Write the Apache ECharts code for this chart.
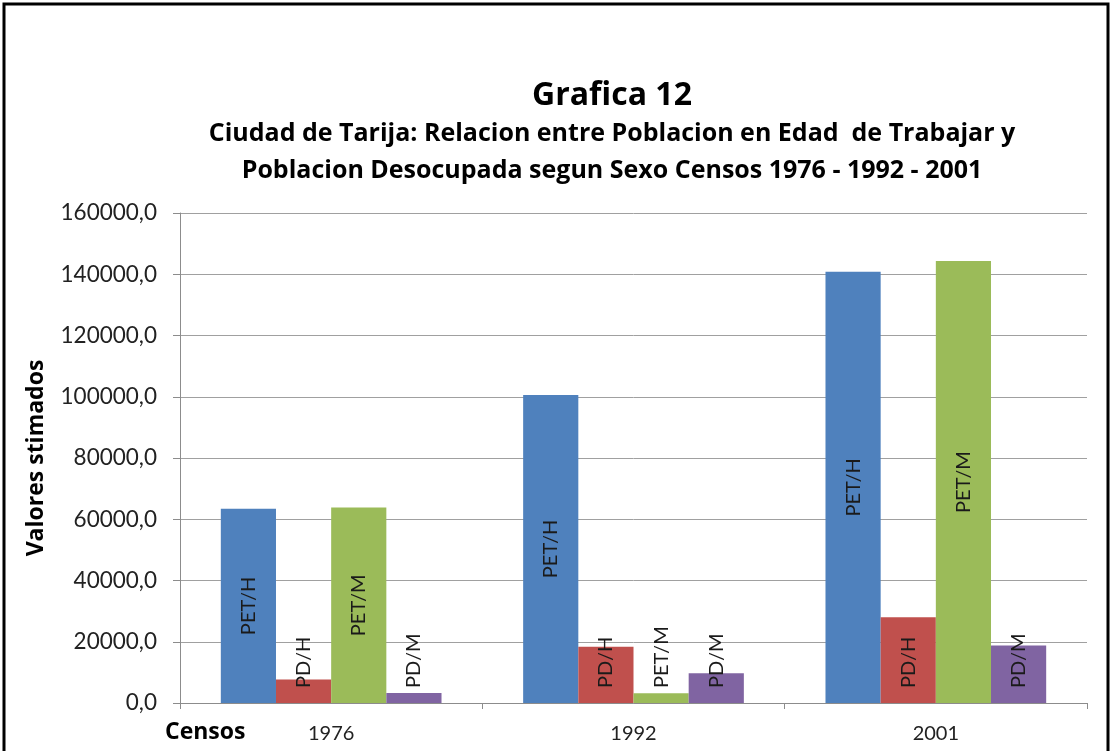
<!DOCTYPE html>
<html>
<head>
<meta charset="utf-8">
<script src="https://cdn.jsdelivr.net/npm/echarts@6/dist/echarts.min.js"></script>
<style>
  html, body { margin: 0; padding: 0; background: #fff; }
  #main { width: 1111px; height: 751px; }
</style>
</head>
<body>
<div id="main"></div>
<script>
// datos
var censos = ['1976', '1992', '2001'];
var seriesNames = ['PET/H', 'PD/H', 'PET/M', 'PD/M'];
var petH = [63400, 100600, 140800];
var pdH = [7700, 18400, 28000];
var petM = [63800, 3200, 144300];
var pdM = [3300, 9700, 18800];
var colors = ['#4F81BD', '#C0504D', '#9BBB59', '#8064A2'];

var FONT = 'Lato, "Open Sans", sans-serif';
var BOLD = '"Open Sans", Lato, sans-serif';

function buildData(values) {
  return values.map(function (v) {
    // etiquetas: centradas en barras altas, abajo en barras bajas
    if (v > 30000) {
      return { value: v, label: { position: 'inside', align: 'center', verticalAlign: 'middle' } };
    }
    return { value: v, label: { position: 'insideBottom', align: 'left', verticalAlign: 'middle', distance: 15 } };
  });
}

var allValues = [petH, pdH, petM, pdM];
var series = seriesNames.map(function (name, i) {
  return {
    name: name,
    type: 'bar',
    barGap: '0%',
    barCategoryGap: '27%',
    itemStyle: { color: colors[i] },
    label: {
      show: true,
      rotate: 90,
      formatter: '{a}',
      color: '#1a1a1a',
      fontSize: 20,
      fontFamily: FONT
    },
    data: buildData(allValues[i])
  };
});

var chart = echarts.init(document.getElementById('main'));
chart.setOption({
  backgroundColor: '#fff',
  animation: false,
  title: [{
    text: 'Grafica 12',
    left: 607,
    textAlign: 'center',
    top: 75,
    textStyle: { fontSize: 32, fontWeight: 'bold', fontFamily: BOLD, color: '#000' }
  }, {
    text: 'Ciudad de Tarija: Relacion entre Poblacion en Edad  de Trabajar y\nPoblacion Desocupada segun Sexo Censos 1976 - 1992 - 2001',
    left: 607,
    textAlign: 'center',
    top: 110,
    textStyle: { fontSize: 25, fontWeight: 'bold', fontFamily: BOLD, color: '#000', lineHeight: 37 }
  }],
  grid: { left: 180, right: 24, top: 213, bottom: 48 },
  xAxis: {
    type: 'category',
    data: censos,
    axisLine: { lineStyle: { color: '#8c8c8c' } },
    axisTick: { show: true, length: 6, alignWithLabel: false, lineStyle: { color: '#8c8c8c' } },
    axisLabel: { fontSize: 20, fontFamily: FONT, color: '#222', margin: 21 }
  },
  yAxis: {
    type: 'value',
    min: 0,
    max: 160000,
    interval: 20000,
    name: 'Valores stimados',
    nameLocation: 'middle',
    nameGap: 132,
    nameTextStyle: { fontSize: 23, fontWeight: 'bold', fontFamily: BOLD, color: '#000' },
    axisLine: { show: true, lineStyle: { color: '#8c8c8c' } },
    axisTick: { show: true, length: 7, lineStyle: { color: '#8c8c8c' } },
    axisLabel: {
      fontSize: 22.5, fontFamily: FONT, color: '#222', margin: 23,
      formatter: function (v) { return v.toFixed(1).replace('.', ','); }
    },
    splitLine: { lineStyle: { color: '#a0a0a0' } }
  },
  graphic: [{
    type: 'rect',
    shape: { x: 4, y: 4, width: 1104, height: 780 },
    style: { fill: 'none', stroke: '#000', lineWidth: 3 },
    silent: true
  }, {
    type: 'text',
    left: 165,
    top: 721,
    style: { text: 'Censos', fontSize: 23, fontWeight: 'bold', fontFamily: BOLD, fill: '#000' }
  }],
  series: series
});
</script>
</body>
</html>
